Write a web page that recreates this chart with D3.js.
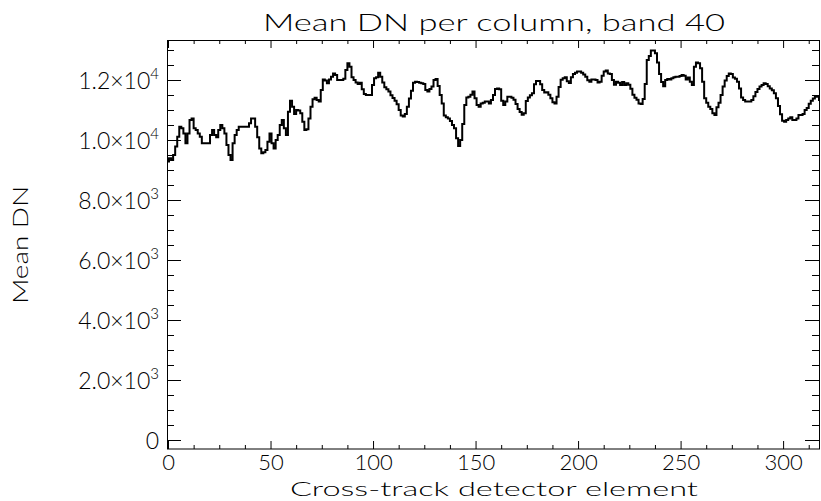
<!DOCTYPE html>
<html>
<head>
<meta charset="utf-8">
<script src="https://cdn.jsdelivr.net/npm/d3@7"></script>
<style>
  html, body { margin: 0; padding: 0; background: #fff; }
  svg { display: block; }
  text { font-family: "Lato", "Liberation Sans", sans-serif; font-weight: 300; fill: #000; }
</style>
</head>
<body>
<svg id="chart" width="821" height="501"></svg>
<script>
// Labels
const chartTitle = "Mean DN per column, band 40";
const xTitle = "Cross-track detector element";
const yTitle = "Mean DN";

// Axis ticks
const xMajorTicks = [0, 50, 100, 150, 200, 250, 300];
const yMajorTicks = [0, 2000, 4000, 6000, 8000, 10000, 12000];
const yTickMantissa = ["0", "2.0×10", "4.0×10", "6.0×10", "8.0×10", "1.0×10", "1.2×10"];
const yTickExponent = ["", "3", "3", "3", "3", "4", "4"];

// Mean DN for each cross-track detector element (index = element number)
const meanDN = [
  9280, 9390, 9330, 9500, 9780, 10110, 10440, 10390, 10220, 9890,
  10220, 10670, 10720, 10390, 10330, 10220, 10110, 9890, 9890, 9890,
  9890, 10170, 10330, 10170, 10090, 10330, 10500, 10390, 10220, 9830,
  9500, 9330, 9890, 10170, 10330, 10440, 10440, 10440, 10440, 10440,
  10560, 10720, 10720, 10440, 10090, 9720, 9560, 9590, 9670, 9940,
  10220, 9890, 9720, 10000, 10170, 10500, 10670, 10390, 10170, 10940,
  11310, 11110, 10870, 11000, 10980, 10890, 10610, 10330, 10360, 10720,
  11110, 11360, 11410, 11330, 11280, 11670, 12020, 11980, 11890, 12020,
  12110, 12220, 12170, 12000, 12000, 12000, 12040, 12330, 12560, 12440,
  12090, 12000, 11920, 11870, 11910, 11690, 11530, 11500, 11500, 11500,
  11830, 12060, 12090, 12240, 12110, 11920, 11760, 11690, 11620, 11490,
  11400, 11310, 11190, 11000, 10820, 10780, 10870, 11110, 11380, 11640,
  11910, 11940, 11930, 11910, 11890, 11870, 11670, 11620, 11700, 11780,
  12000, 12030, 11800, 11500, 11220, 10820, 10760, 10720, 10630, 10500,
  10390, 10060, 9800, 10000, 10530, 11170, 11420, 11440, 11510, 11620,
  11390, 11170, 11110, 11220, 11240, 11280, 11280,
  11220, 11330, 11500, 11700, 11720, 11690, 11310, 11170, 11280, 11440,
  11440, 11410, 11340, 11200, 11030, 10930, 10840, 10890, 11300, 11420,
  11490, 11560, 11860, 11970, 11970, 11860, 11670, 11580, 11590, 11510,
  11390, 11260, 11220, 11440, 11770, 12010, 12060, 12090, 11960, 11900,
  12090, 12200, 12240, 12280, 12280, 12240, 12180, 12110, 11990, 11940,
  12020, 12020, 12000, 11920, 11940, 12140, 12280, 12320, 12220, 12200,
  12000, 11840, 11940, 11910, 11830, 11930, 11830, 11890, 11840, 11710,
  11510, 11410, 11340, 11220, 11200, 11370, 11870, 12670, 12800, 12980,
  12980, 12890, 12580, 12200, 11930, 11790, 12000, 12030, 12020, 12060,
  12090, 12110, 12110, 12130, 12170, 12140, 12020, 12080, 11940, 11830,
  12440, 12580, 12560, 12390, 11940, 11390, 11240, 11110, 11030, 10890,
  10830, 11090, 11240, 11500, 11780, 11980, 12130, 12220, 12200, 12080,
  12040, 11940, 11720, 11420, 11330, 11280, 11280, 11280, 11330, 11460,
  11600, 11700, 11780, 11830, 11890, 11870, 11790, 11720, 11660, 11560,
  11390, 11130, 10860, 10640, 10610, 10670, 10720, 10760, 10670, 10670,
  10720, 10830, 10830, 10870, 11000, 11070, 11210, 11310, 11380, 11440,
  11470, 11330
];

const svg = d3.select("#chart");
const plot = { left: 168, right: 820, top: 41, bottom: 449 };

const x = d3.scaleLinear().domain([0, 318]).range([plot.left, plot.right]);
const y = d3.scaleLinear().domain([-300, 13300]).range([plot.bottom, plot.top]);

const xMinor = d3.range(0, 318, 12.5).filter(v => v % 50 !== 0);
const yMinor = d3.range(0, 13300, 500).filter(v => v % 2000 !== 0);

// Frame
svg.append("rect")
  .attr("x", plot.left - 0.5).attr("y", plot.top - 0.5)
  .attr("width", plot.right - plot.left).attr("height", plot.bottom - plot.top + 0.5)
  .attr("fill", "none").attr("stroke", "#000").attr("stroke-width", 1);

function styleAxis(g) {
  g.select(".domain").remove();
  g.selectAll("line").attr("stroke", "#000").attr("stroke-width", 1);
}

const fontSize = 23;

// Bottom axis with labels
svg.append("g")
  .attr("transform", `translate(0,${plot.bottom})`)
  .call(d3.axisBottom(x).tickValues(xMajorTicks).tickSize(-8).tickSizeOuter(0).tickPadding(5).tickFormat(d3.format("d")))
  .call(styleAxis)
  .call(g => g.selectAll("text").attr("font-size", 22).attr("fill", "#000"));
svg.append("g")
  .attr("transform", `translate(0,${plot.bottom})`)
  .call(d3.axisBottom(x).tickValues(xMinor).tickSize(-4).tickSizeOuter(0).tickFormat(""))
  .call(styleAxis);

// Top axis, ticks only
svg.append("g")
  .attr("transform", `translate(0,${plot.top - 1})`)
  .call(d3.axisTop(x).tickValues(xMajorTicks).tickSize(-8).tickSizeOuter(0).tickFormat(""))
  .call(styleAxis);
svg.append("g")
  .attr("transform", `translate(0,${plot.top - 1})`)
  .call(d3.axisTop(x).tickValues(xMinor).tickSize(-4).tickSizeOuter(0).tickFormat(""))
  .call(styleAxis);

// Left axis with exponent labels
const yAxisLeft = svg.append("g")
  .attr("transform", `translate(${plot.left - 1},0)`)
  .call(d3.axisLeft(y).tickValues(yMajorTicks).tickSize(-14).tickSizeOuter(0).tickPadding(8))
  .call(styleAxis);
yAxisLeft.selectAll("text").each(function (d) {
  const i = yMajorTicks.indexOf(d);
  const t = d3.select(this).text(null).attr("font-size", fontSize).attr("fill", "#000").attr("dy", "0.36em");
  t.append("tspan").text(yTickMantissa[i]);
  if (yTickExponent[i]) {
    t.append("tspan").attr("font-size", 15).attr("dy", -10).text(yTickExponent[i]);
  }
});
svg.append("g")
  .attr("transform", `translate(${plot.left - 1},0)`)
  .call(d3.axisLeft(y).tickValues(yMinor).tickSize(-7).tickSizeOuter(0).tickFormat(""))
  .call(styleAxis);

// Right axis, ticks only
svg.append("g")
  .attr("transform", `translate(${plot.right - 1},0)`)
  .call(d3.axisRight(y).tickValues(yMajorTicks).tickSize(-14).tickSizeOuter(0).tickFormat(""))
  .call(styleAxis);
svg.append("g")
  .attr("transform", `translate(${plot.right - 1},0)`)
  .call(d3.axisRight(y).tickValues(yMinor).tickSize(-7).tickSizeOuter(0).tickFormat(""))
  .call(styleAxis);

// Data line, drawn as a histogram-style step
const line = d3.line()
  .x((d, i) => x(i))
  .y(d => y(d))
  .curve(d3.curveStep);

svg.append("path")
  .datum(meanDN)
  .attr("d", line)
  .attr("fill", "none")
  .attr("stroke", "#000")
  .attr("stroke-width", 2)
  .attr("stroke-linejoin", "miter");

// Titles
svg.append("text")
  .attr("x", (plot.left + plot.right) / 2).attr("y", 31)
  .attr("text-anchor", "middle").attr("font-size", fontSize)
  .attr("textLength", 462).attr("lengthAdjust", "spacingAndGlyphs")
  .text(chartTitle);

svg.append("text")
  .attr("x", (plot.left + plot.right) / 2).attr("y", 496)
  .attr("text-anchor", "middle").attr("font-size", 20)
  .attr("textLength", 408).attr("lengthAdjust", "spacingAndGlyphs")
  .text(xTitle);

svg.append("text")
  .attr("transform", `translate(28,${(plot.top + plot.bottom) / 2}) rotate(-90)`)
  .attr("text-anchor", "middle").attr("font-size", 22)
  .attr("textLength", 118).attr("lengthAdjust", "spacingAndGlyphs")
  .text(yTitle);
</script>
</body>
</html>
